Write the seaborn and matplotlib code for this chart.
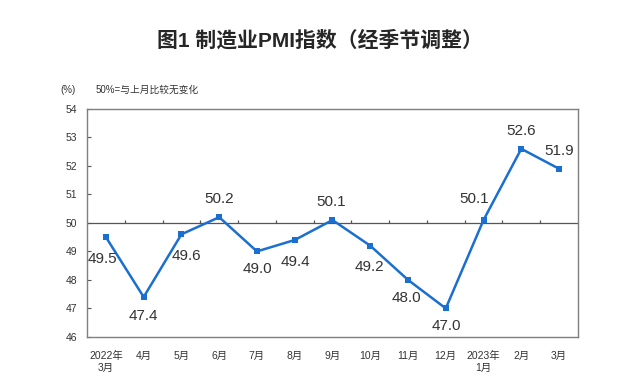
import numpy as np
import pandas as pd
import seaborn as sns
import matplotlib.pyplot as plt

### data
months = ['2022年\n3月', '4月', '5月', '6月', '7月', '8月', '9月',
          '10月', '11月', '12月', '2023年\n1月', '2月', '3月']
pmi = [49.5, 47.4, 49.6, 50.2, 49.0, 49.4, 50.1, 49.2, 48.0, 47.0, 50.1, 52.6, 51.9]
yticks = [46, 47, 48, 49, 50, 51, 52, 53, 54]

# label offsets in pixels (dx, dy)
label_off = [(-3, -22), (0, -19), (5, -22), (0, 18), (0, -18), (1, -22), (-1, 18),
             (-1, -21), (-2, -18), (1, -18), (-9, 21), (0, 18), (0, 18)]

df = pd.DataFrame({'month': months, 'pmi': pmi})

sns.set_style('white')
plt.rcParams['font.family'] = ['Liberation Sans', 'Noto Sans CJK SC', 'DejaVu Sans']

fig = plt.figure(figsize=(6.4, 3.89), dpi=100)
ax = fig.add_axes([0.136, 0.134, 0.767, 0.586])

sns.lineplot(data=df, x='month', y='pmi', sort=False, marker='s', markersize=4.5,
             markeredgewidth=0, color='#1b6fd0', linewidth=1.8, ax=ax)

ax.set_xlim(-0.5, len(months) - 0.5)
ax.set_ylim(46, 54)
ax.set_yticks(yticks)
ax.set_yticklabels([str(t) for t in yticks], fontsize=7.5, color='#333333')
ax.set_xticks(range(len(months)))
ax.set_xticklabels(months, fontsize=7.5, color='#333333', linespacing=1.2)
ax.tick_params(axis='x', length=0, pad=10)
ax.tick_params(axis='y', direction='in', length=3, color='#555555', pad=7, left=True)
ax.set_xlabel('')
ax.set_ylabel('')
for sp in ax.spines.values():
    sp.set_color('#7f7f7f')
    sp.set_linewidth(1.0)

# 50 reference line with small ticks at category boundaries
ax.axhline(50, color='#555555', linewidth=0.9, zorder=1)
ax.vlines(np.arange(0.5, len(months) - 1), 50, 50.1, color='#555555', linewidth=0.9)

for i, v in enumerate(pmi):
    dx, dy = label_off[i]
    ax.annotate(f'{v:.1f}', (i, v), xytext=(dx, dy), textcoords='offset pixels',
                ha='center', va='center', fontsize=11, color='#333333')

fig.text(0.5, 0.897, '图1 制造业PMI指数（经季节调整）', ha='center', va='center',
         fontsize=15, fontweight='bold', family=['Liberation Sans', 'Noto Sans CJK SC'])
fig.text(0.094, 0.768, '(%)', ha='left', va='center', fontsize=7, color='#333333')
fig.text(0.149, 0.768, '50%=与上月比较无变化', ha='left', va='center', fontsize=7, color='#333333')

fig.savefig('out.png', dpi=100)
